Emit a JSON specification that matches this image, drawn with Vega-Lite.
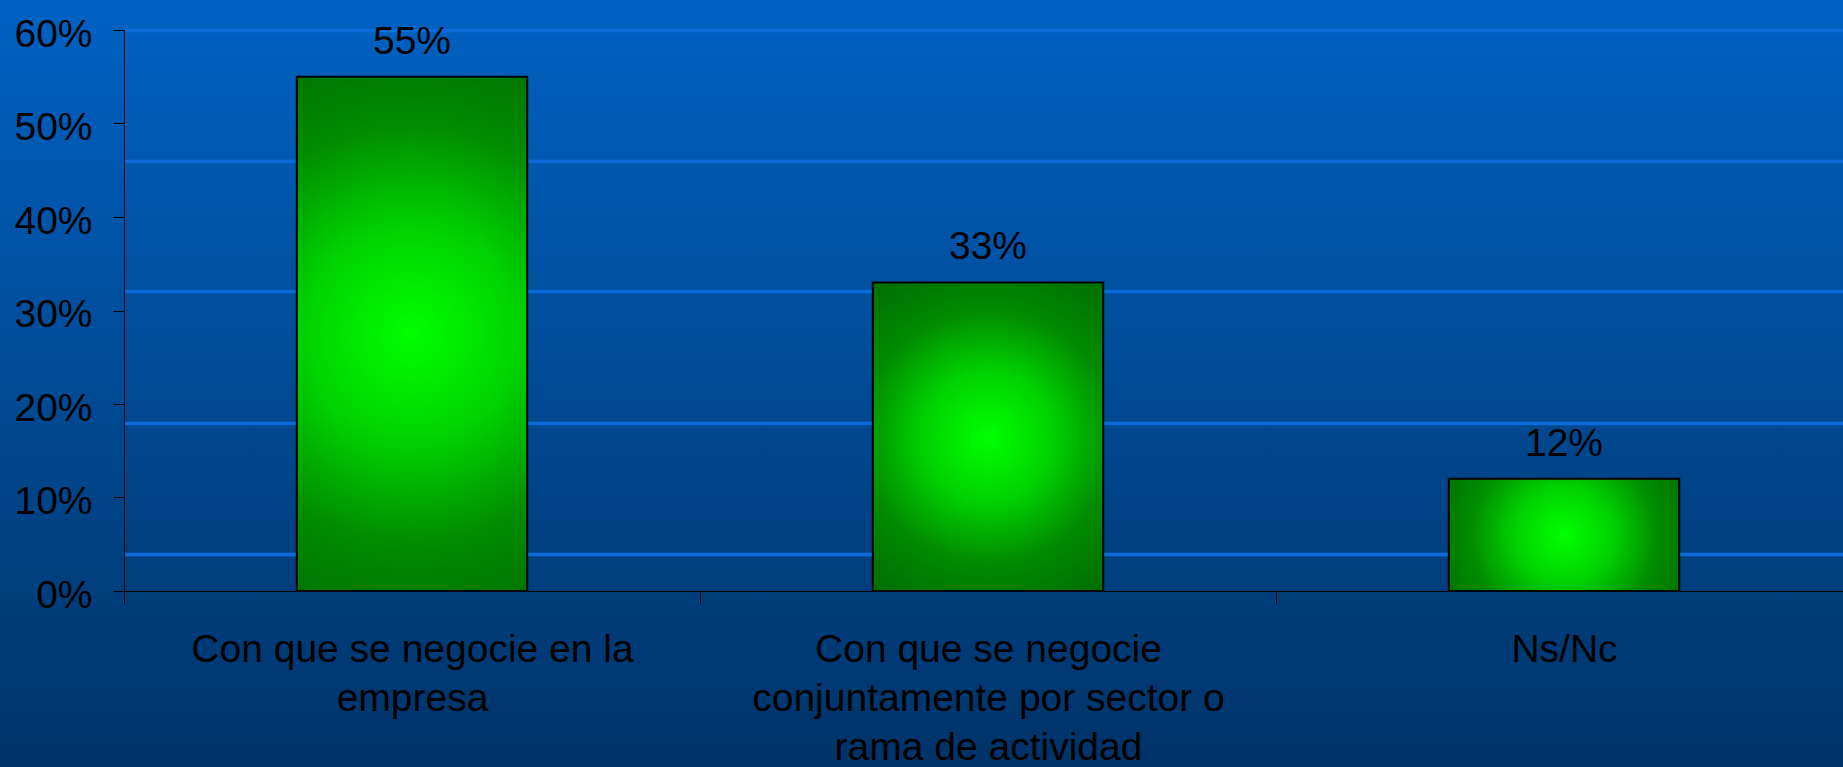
{
  "$schema": "https://vega.github.io/schema/vega-lite/v6.json",
  "width": 1843,
  "height": 767,
  "autosize": {"type": "none"},
  "padding": 0,
  "background": "#004a94",
  "config": {
    "view": {
      "stroke": null,
      "fill": {"gradient": "linear", "x1": 0, "y1": 0, "x2": 0, "y2": 1, "stops": [{"offset": 0, "color": "#0062c3"}, {"offset": 1, "color": "#003367"}]}
    },
    "font": "Liberation Sans"
  },
  "data": {
    "values": [
      {"categoria": "Con que se negocie en la empresa", "valor": 0.55},
      {"categoria": "Con que se negocie conjuntamente por sector o rama de actividad", "valor": 0.33},
      {"categoria": "Ns/Nc", "valor": 0.12}
    ]
  },
  "encoding": {
    "x": {
      "field": "categoria",
      "type": "nominal",
      "sort": null,
      "scale": {"range": [124, 1852], "paddingInner": 0.6, "paddingOuter": 0.3},
      "axis": {
        "title": null,
        "offset": -176,
        "labelAngle": 0,
        "labelFont": "Liberation Sans",
        "labelFontSize": 39,
        "labelColor": "#000000",
        "labelLineHeight": 49,
        "labelPadding": 27,
        "labelBaseline": "top",
        "labelLimit": 0,
        "tickOffset": -288,
        "labelOffset": 288,
        "tickSize": 12,
        "tickColor": "#000000",
        "domainColor": "#000000",
        "labelExpr": "datum.value == 'Con que se negocie en la empresa' ? ['Con que se negocie en la', 'empresa'] : datum.value == 'Ns/Nc' ? 'Ns/Nc' : ['Con que se negocie', 'conjuntamente por sector o', 'rama de actividad']"
      }
    }
  },
  "layer": [
    {
      "mark": {
        "type": "bar",
        "stroke": "#000000",
        "strokeWidth": 2,
        "color": {"gradient": "radial", "x1": 0.5, "y1": 0.5, "r1": 0, "x2": 0.5, "y2": 0.5, "r2": 0.58, "stops": [{"offset": 0, "color": "#00ff00"}, {"offset": 0.35, "color": "#00d400"}, {"offset": 0.7, "color": "#008c00"}, {"offset": 1, "color": "#007200"}]}
      },
      "encoding": {
        "y": {
          "field": "valor",
          "type": "quantitative",
          "scale": {"domain": [0, 0.6], "range": [591, 30], "nice": false, "zero": true},
          "axis": {
            "title": null,
            "offset": -124,
            "values": [0, 0.1, 0.2, 0.3, 0.4, 0.5, 0.6],
            "format": ".0%",
            "grid": false,
            "labelFont": "Liberation Sans",
            "labelFontSize": 39,
            "labelColor": "#000000",
            "labelPadding": 21,
            "labelOffset": 4,
            "tickSize": 11,
            "tickColor": "#000000",
            "domainColor": "#000000"
          }
        }
      }
    },
    {
      "mark": {"type": "text", "dy": -35, "baseline": "middle", "align": "center", "font": "Liberation Sans", "fontSize": 39, "color": "#000000"},
      "encoding": {
        "y": {
          "field": "valor",
          "type": "quantitative",
          "axis": {
            "orient": "left",
            "title": null,
            "values": [0.0396, 0.18, 0.321, 0.46, 0.6],
            "grid": true,
            "gridColor": "#0b6bd9",
            "gridWidth": 3.5,
            "labels": false,
            "ticks": false,
            "domain": false
          }
        },
        "text": {"field": "valor", "type": "quantitative", "format": ".0%"}
      }
    }
  ],
  "resolve": {"axis": {"y": "independent"}}
}
